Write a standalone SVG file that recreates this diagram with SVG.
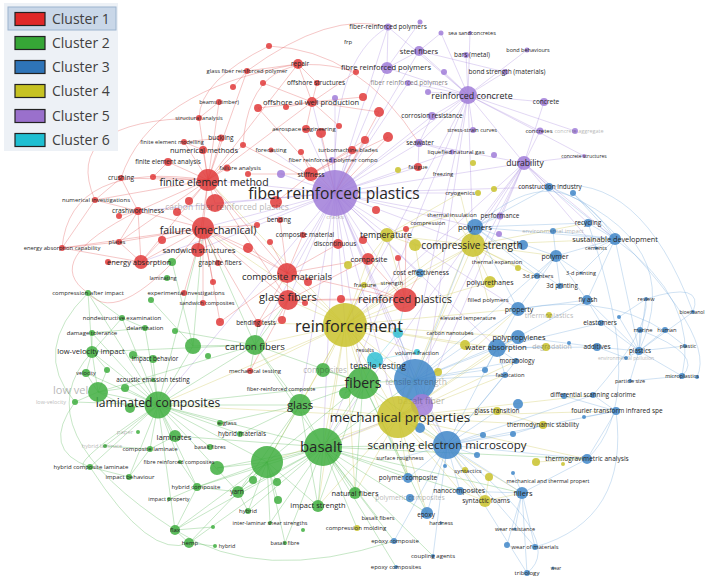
<svg xmlns="http://www.w3.org/2000/svg" width="709" height="579" viewBox="0 0 709 579">
<style>
.n1{fill:#e03a3a}.n2{fill:#3fae3f}.n3{fill:#3f86c8}.n4{fill:#c9c22b}.n5{fill:#a07cd8}.n6{fill:#32bfd4}
circle{fill-opacity:.85}
text{font-family:"Open Sans","Liberation Sans",sans-serif;fill:#262626;text-anchor:middle}
.f{opacity:.33}
.e path{fill:none;stroke-width:.8;stroke-opacity:.4}
.e1{stroke:#e05050}.e2{stroke:#4fb54f}.e3{stroke:#6aa3da}.e4{stroke:#c9c24a}.e5{stroke:#a585dc}.e6{stroke:#40c4d8}
.lg text{text-anchor:start;font-size:14px;fill:#404040}
.sw{stroke:#222;stroke-width:1.2}
</style>
<rect width="709" height="579" fill="#fff"/>
<g id="connectors" class="e">
<path class="e5" d="M335 193L311 174M335 193L332 160M335 193L352 150M335 193L271 150M335 193L288 300M335 193L287 273M335 193L345 325M335 193L405 300M335 193L387 235M335 193L368 259M335 193L473 245M335 193L475 227M335 193L524 163M335 193L468 95M335 193L387 68M335 193L419 51M335 193L419 143M335 193L432 116M335 193L418 167M335 193L460 193M335 193L208 180M335 193L203 228M335 193L215 203M335 193L198 250M335 193L312 102M335 193L306 129M335 193L323 447M335 193L363 383M335 193L398 417M335 193L415 380M335 193L300 405M335 193L255 345M335 193L158 405M335 193L141 262M335 193L138 211M335 193L549 187M335 193L452 215M335 193L420 273M335 193L452 152M335 193L388 27M335 193L408 83M335 193L335 98M335 193L281 174M335 193L497 348M335 193L518 309M335 193L422 405M335 193L447 445"/>
<path class="e5" d="M468 95L419 51M468 95L466 55M468 95L505 72M468 95L527 50M468 95L470 33M468 95L441 33M468 95L387 68M468 95L388 27M468 95L432 116M468 95L473 130M468 95L544 102M468 95L540 131M468 95L524 163M468 95L419 143M468 95L473 245M468 95L408 83M468 95L428 92M468 95L444 72M468 95L575 131M468 95L584 156M468 95L345 325M468 95L398 417M468 95L323 447M387 68L419 51M387 68L388 27M387 68L420 22M419 51L441 33M419 51L505 72M419 143L452 152M419 143L418 167M432 116L419 143M388 27Q330 60 335 193"/>
<path class="e5" d="M524 163L540 131M524 163L584 156M524 163L549 187M524 163L544 102M524 163L473 245M524 163L475 227M524 163L500 216M524 163L596 248M524 163L615 239M524 163L588 223M524 163L345 325M524 163L398 417M524 163L323 447M524 163L419 143M422 405L323 447M422 405L398 417M422 405L447 445M422 405L415 380M422 405L468 95M422 405L524 163"/>
<path class="e4" d="M345 325L323 447M345 325L363 383M345 325L300 405M345 325L398 417M345 325L415 380M345 325L447 445M345 325L473 245M345 325L475 227M345 325L387 235M345 325L288 300M345 325L287 273M345 325L255 345M345 325L158 405M345 325L203 228M345 325L208 180M345 325L405 300M345 325L497 348M345 325L518 337M345 325L518 309M345 325L368 259M345 325L375 360M345 325L323 370M345 325L490 282M345 325L420 273M345 325L364 285M345 325L417 353M345 325L465 345M345 325L250 371M345 325L258 323M345 325L267 462M345 325L355 493M345 325L318 506M345 325L408 478"/>
<path class="e4" d="M398 417L447 445M398 417L415 380M398 417L363 383M398 417L323 447M398 417L300 405M398 417L497 348M398 417L518 337M398 417L518 309M398 417L522 493M398 417L485 501M398 417L460 491M398 417L408 478M398 417L427 513M398 417L587 459M398 417L497 411M398 417L543 425M398 417L593 395M398 417L616 411M398 417L473 245M398 417L475 227M398 417L355 493M398 417L318 506M398 417L158 405M398 417L267 462M398 417L516 361M398 417L505 375"/>
<path class="e4" d="M473 245L475 227M473 245L490 282M473 245L497 262M473 245L387 235M473 245L420 273M473 245L488 300M473 245L537 276M473 245L556 256M473 245L415 245M473 245L452 215M473 245L460 193M473 245L518 268M473 245L523 245M473 245L588 223M473 245L615 239M387 235L368 259M387 235L415 245M387 235L452 215M387 235L460 193M387 235L428 223M387 235L405 300M485 501L460 491M485 501L522 493M485 501L447 445M485 501L489 477M415 245L420 273M364 285L392 283M497 411L543 425M536 462L587 459"/>
<path class="e2" d="M323 447L158 405M323 447L300 405M323 447L363 383M323 447L447 445M323 447L355 493M323 447L318 506M323 447L427 513M323 447L238 492M323 447L197 487M323 447L175 530M323 447L189 543M323 447L175 436M323 447L357 528M323 447L378 518M323 447L433 556M323 447L394 541M323 447L396 567M323 447L270 523M323 447L285 543M323 447L415 380M323 447L587 459M323 447L522 493M323 447L408 478M323 447L267 462M323 447L255 345M323 447L217 468M323 447L248 511M323 447L460 491"/>
<path class="e2" d="M158 405L92 352M158 405L92 333M158 405L86 373M158 405L125 388M158 405L153 359M158 405L175 436M158 405L150 449M158 405L90 467M158 405L105 446M158 405L129 477M158 405L220 423M158 405L240 434M158 405L300 405M158 405L363 383M158 405L255 345M158 405L88 293M158 405L122 318M158 405L145 328M158 405L98 392M158 405L267 462M158 405L238 492M158 405L197 487M158 405L175 530M158 405L130 408M158 405L75 402M158 405L193 346M158 405L180 462M158 405L210 447M158 405L203 228"/>
<path class="e2" d="M363 383L300 405M363 383L255 345M363 383L415 380M363 383L447 445M363 383L267 462M363 383L355 493M363 383L318 506M363 383L323 370M363 383L345 393M363 383L427 513M363 383L408 478M300 405L255 345M300 405L267 462M300 405L220 423M300 405L240 434M300 405L238 492M300 405L318 506M255 345L193 346M255 345L250 371M255 345L258 323M255 345L288 300M255 345L203 228M255 345L175 331M255 345L92 352M255 345L98 392"/>
<path class="e2" d="M267 462L238 492M267 462L197 487M267 462L253 480M267 462L277 482M267 462L278 500M267 462L217 468M267 462L248 511M267 462L318 506M267 462L175 530M267 462L189 543M267 462L270 523M267 462L285 543M92 352L92 333M92 352L86 373M92 352L98 392M92 352L122 318M92 352L88 293M92 352L107 370M98 392L75 402M98 392L86 373M98 392L125 388M98 392L130 408M98 392L107 370M175 530L213 527M189 543L215 546M175 530L189 543M238 492L248 511"/>
<path class="e2" d="M88 293L122 318M122 318L145 328M92 333L145 328M133 355L153 359M153 380L125 388M175 436L150 449M150 449L105 446M90 467L129 477M129 477L150 449M180 462L197 487M197 487L175 530M197 487L238 492M169 499L197 487M193 346L203 228M172 262L193 346M151 300L193 346M75 402Q40 450 90 467M88 293Q30 350 75 402M92 352Q20 430 175 530M175 530Q260 585 394 541M90 467Q150 560 189 543M158 405Q60 470 90 467"/>
<path class="e3" d="M447 445L415 380M447 445L522 493M447 445L460 491M447 445L408 478M447 445L427 513M447 445L616 411M447 445L587 459M447 445L593 395M447 445L497 348M447 445L516 361M447 445L505 375M447 445L535 547M447 445L527 573M447 445L433 556M447 445L497 411M447 445L483 435M447 445L513 434M447 445L477 455M447 445L445 466M447 445L400 458M447 445L394 541"/>
<path class="e3" d="M415 380L497 348M415 380L518 337M415 380L518 309M415 380L516 361M415 380L505 375M415 380L485 370M415 380L420 428M415 380L475 227M415 380L556 256M415 380L375 360M415 380L398 333M497 348L518 337M497 348L518 309M497 348L516 361M497 348L505 375M497 348L485 370M497 348L546 347M497 348L597 347M497 348L587 300M497 348L601 323"/>
<path class="e3" d="M475 227L556 256M475 227L549 187M475 227L588 223M475 227L615 239M475 227L537 276M475 227L560 286M475 227L518 309M475 227L500 216M615 239L588 223M615 239L549 187M615 239L573 193M615 239L556 256M615 239L596 248M615 239L581 273M615 239L639 351M615 239L587 300M615 239L553 231M556 256L537 276M556 256L560 286M556 256L581 273M556 256L553 231M556 256L587 300M556 256L518 309"/>
<path class="e3" d="M639 351L685 346M639 351L640 330M639 351L665 330M639 351L626 358M639 351L630 381M639 351L682 376M639 351L646 299M639 351L693 312M639 351L597 347M639 351L601 323M639 351L619 317M639 351L587 300M522 493L535 547M522 493L515 529M522 493L507 545M522 493L527 573M522 493L513 473M522 493L587 459M522 493L460 491M616 411L587 459M616 411L593 395M616 411L564 396M616 411L584 417"/>
<path class="e3" d="M518 309L587 300M518 337L597 347M601 323L587 300M619 317L646 299M597 347L626 358M630 381L682 376M513 434L543 425M615 239Q700 300 682 376M549 187Q690 240 639 351M588 223Q650 400 587 459M573 193Q720 330 697 377M447 445Q570 540 527 573M616 411Q630 520 535 547M646 299Q705 280 693 312M640 330Q705 355 682 376M549 187Q640 170 693 312M475 227Q560 150 615 239M518 309Q620 290 685 346M593 395Q650 330 646 299"/>
<path class="e1" d="M208 180L203 150M208 180L168 162M208 180L121 178M208 180L138 211M208 180L95 200M208 180L203 228M208 180L215 203M208 180L199 118M208 180L219 102M208 180L221 138M208 180L184 142M208 180L198 250M208 180L141 262M208 180L287 273M208 180L288 300M208 180L227 168M208 180L153 177M208 180L189 201M208 180L243 145M208 180L312 102M208 180L298 64M208 180L247 71M208 180L119 242"/>
<path class="e1" d="M203 228L198 250M203 228L141 262M203 228L138 211M203 228L119 242M203 228L218 263M203 228L287 273M203 228L288 300M203 228L184 293M203 228L258 323M203 228L162 240M203 228L177 212M203 228L62 248M203 228L213 282M203 228L203 303M203 228L248 248M203 228L257 225M203 228L220 322M287 273L288 300M287 273L405 300M287 273L368 259M287 273L303 235M287 273L280 220M287 273L338 244M287 273L248 248M287 273L270 242M287 273L308 282M287 273L258 323M287 273L220 322"/>
<path class="e1" d="M288 300L405 300M288 300L258 323M288 300L282 320M288 300L305 303M288 300L341 299M288 300L250 371M288 300L368 259M405 300L368 259M405 300L406 229M405 300L398 258M405 300L341 299M405 300L420 273M405 300L364 285M312 102L317 83M312 102L298 64M312 102L363 97M312 102L356 72M312 102L258 108M312 102L286 107M312 102L306 129M312 102L339 126M312 102L379 112M141 262L108 262M141 262L119 242M141 262L62 248M141 262L138 211M141 262L172 262M141 262L162 240M138 211L121 178M138 211L95 200M138 211L119 216M138 211L119 242M311 174L248 174M311 174L276 202M311 174L301 152M311 174L352 150M311 174L365 140M311 174L388 137"/>
<path class="e1" d="M121 178L95 200M95 200L62 248M119 242L62 248M168 162L153 177M203 150L184 142M199 118L219 102M221 138L184 142M247 71L298 64M298 64L317 83M233 87L247 71M263 83L312 102M243 145L335 193M258 108L335 193M321 133L335 193M365 140L335 193M388 137L335 193M379 112L335 193M208 180Q70 160 62 248M138 211Q40 260 88 293M203 228Q120 330 88 293M247 71Q330 10 388 27M269 46Q360 50 419 143M95 200Q60 120 199 118M121 178Q150 90 298 64M243 145Q250 40 356 72M269 46Q200 80 199 118"/>
<path class="e6" d="M375 360L398 333M375 360L417 352M375 360L363 383M375 360L415 380M398 333L405 300"/>
</g>
<g id="legend" class="lg">
<rect x="4" y="3" width="114" height="148" fill="#edf1f6"/>
<rect x="8" y="7" width="108" height="23" fill="#c9d7e8" stroke="#9cb4ce"/>
<rect class="sw" x="15" y="12.5" width="30" height="13" fill="#e02828"/><text x="52" y="24">Cluster 1</text>
<rect class="sw" x="15" y="36.5" width="30" height="13" fill="#36a636"/><text x="52" y="48">Cluster 2</text>
<rect class="sw" x="15" y="60.5" width="30" height="13" fill="#2e74b8"/><text x="52" y="72">Cluster 3</text>
<rect class="sw" x="15" y="84.5" width="30" height="13" fill="#c6c222"/><text x="52" y="96">Cluster 4</text>
<rect class="sw" x="15" y="109.5" width="30" height="13" fill="#9a70cc"/><text x="52" y="121">Cluster 5</text>
<rect class="sw" x="15" y="133.5" width="30" height="13" fill="#1fbfd2"/><text x="52" y="145">Cluster 6</text>
</g>
<g id="minor-nodes">
<circle class="n1" cx="233" cy="87" r="3"/><circle class="n1" cx="263" cy="83" r="3"/><circle class="n1" cx="356" cy="72" r="3"/><circle class="n1" cx="363" cy="97" r="4"/><circle class="n1" cx="258" cy="108" r="4"/><circle class="n1" cx="286" cy="107" r="3"/><circle class="n1" cx="339" cy="126" r="3"/><circle class="n1" cx="321" cy="133" r="5"/><circle class="n1" cx="379" cy="112" r="5"/><circle class="n1" cx="365" cy="140" r="4"/><circle class="n1" cx="388" cy="137" r="5"/><circle class="n1" cx="243" cy="145" r="3"/><circle class="n1" cx="153" cy="177" r="3"/><circle class="n1" cx="189" cy="201" r="4"/><circle class="n1" cx="177" cy="212" r="4"/><circle class="n1" cx="119" cy="216" r="3"/><circle class="n1" cx="162" cy="240" r="4"/><circle class="n1" cx="213" cy="282" r="3"/><circle class="n1" cx="108" cy="262" r="3"/><circle class="n1" cx="220" cy="322" r="4"/><circle class="n1" cx="248" cy="174" r="3"/><circle class="n1" cx="276" cy="202" r="6"/><circle class="n1" cx="301" cy="152" r="3"/><circle class="n1" cx="257" cy="225" r="3"/><circle class="n1" cx="270" cy="242" r="3"/><circle class="n1" cx="248" cy="248" r="5"/><circle class="n1" cx="363" cy="240" r="4"/><circle class="n1" cx="376" cy="210" r="4"/><circle class="n1" cx="398" cy="258" r="3"/><circle class="n1" cx="406" cy="229" r="3"/><circle class="n1" cx="308" cy="282" r="4"/><circle class="n1" cx="282" cy="320" r="4"/><circle class="n1" cx="305" cy="303" r="3"/><circle class="n1" cx="341" cy="299" r="4"/><circle class="n1" cx="269" cy="46" r="3"/>
<circle class="n2" cx="172" cy="262" r="4"/><circle class="n2" cx="151" cy="300" r="3"/><circle class="n2" cx="175" cy="331" r="3"/><circle class="n2" cx="193" cy="346" r="8"/><circle class="n2" cx="208" cy="356" r="3"/><circle class="n2" cx="107" cy="370" r="3"/><circle class="n2" cx="133" cy="355" r="4"/><circle class="n2" cx="217" cy="468" r="7"/><circle class="n2" cx="253" cy="480" r="4"/><circle class="n2" cx="277" cy="482" r="4"/><circle class="n2" cx="278" cy="500" r="4"/><circle class="n2" cx="213" cy="527" r="2"/><circle class="n2" cx="303" cy="530" r="2"/><circle class="n2" cx="345" cy="393" r="6"/><circle class="n2" cx="130" cy="408" r="5"/><circle class="n2" cx="125" cy="388" r="4"/><circle class="n2" cx="138" cy="432" r="2"/>
<circle class="n3" cx="483" cy="435" r="3"/><circle class="n3" cx="513" cy="434" r="3"/><circle class="n3" cx="477" cy="455" r="3"/><circle class="n3" cx="445" cy="466" r="2"/><circle class="n3" cx="420" cy="428" r="5"/><circle class="n3" cx="518" cy="404" r="5"/><circle class="n3" cx="584" cy="417" r="2"/><circle class="n3" cx="569" cy="343" r="2"/><circle class="n3" cx="619" cy="317" r="2"/><circle class="n3" cx="485" cy="370" r="3"/><circle class="n3" cx="573" cy="193" r="3"/><circle class="n3" cx="523" cy="245" r="5"/><circle class="n3" cx="564" cy="396" r="3"/><circle class="n3" cx="697" cy="377" r="2"/><circle class="n3" cx="507" cy="545" r="3"/>
<circle class="n4" cx="415" cy="245" r="6"/><circle class="n4" cx="348" cy="265" r="4"/><circle class="n4" cx="398" cy="170" r="3"/><circle class="n4" cx="473" cy="163" r="3"/><circle class="n4" cx="494" cy="189" r="3"/><circle class="n4" cx="478" cy="193" r="3"/><circle class="n4" cx="518" cy="268" r="3"/><circle class="n4" cx="438" cy="372" r="4"/><circle class="n4" cx="465" cy="345" r="5"/><circle class="n4" cx="536" cy="462" r="4"/><circle class="n4" cx="563" cy="464" r="2"/><circle class="n4" cx="489" cy="477" r="4"/>
<circle class="n5" cx="420" cy="22" r="2.5"/><circle class="n5" cx="441" cy="33" r="2.5"/><circle class="n5" cx="444" cy="72" r="3"/><circle class="n5" cx="428" cy="92" r="3"/><circle class="n5" cx="281" cy="174" r="4"/><circle class="n5" cx="335" cy="98" r="3"/><circle class="n5" cx="494" cy="155" r="3"/><circle class="n5" cx="499" cy="234" r="3"/>
<circle class="n6" cx="398" cy="333" r="5"/><circle class="n6" cx="417" cy="352" r="3"/>
</g>
<g id="n-frp"><circle class="n5" cx="335" cy="193" r="23"/><text x="334" y="198.5" font-size="15.6">fiber reinforced plastics</text></g>
<g id="n-reinforcement"><circle class="n4" cx="345" cy="325" r="22"/><text x="349" y="331.7" font-size="16.2">reinforcement</text></g>
<g id="n-tensile-strength"><circle class="n3" cx="415" cy="380" r="21"/><text class="f" x="416" y="384.5" font-size="8.5">tensile strength</text></g>
<g id="n-basalt-fiber"><circle class="n5" cx="422" cy="405" r="11"/><text class="f" x="421" y="404" font-size="9">basalt fiber</text></g>
<g id="n-mechanical-properties"><circle class="n4" cx="398" cy="417" r="21"/><text x="400" y="421.7" font-size="13.5">mechanical properties</text></g>
<g id="n-basalt"><circle class="n2" cx="323" cy="447" r="19"/><text x="321" y="452" font-size="15">basalt</text></g>
<g id="n-big-green"><circle class="n2" cx="267" cy="462" r="16"/></g>
<g id="n-fibers"><circle class="n2" cx="363" cy="383" r="16"/><text x="363" y="388" font-size="14">fibers</text></g>
<g id="n-glass"><circle class="n2" cx="300" cy="405" r="11"/><text x="300" y="409" font-size="11.3">glass</text></g>
<g id="n-composites"><circle class="n2" cx="323" cy="370" r="7"/><text class="f" x="325" y="372.9" font-size="8.2">composites</text></g>
<g id="n-tensile-testing"><circle class="n6" cx="375" cy="360" r="8"/><text x="378" y="369" font-size="8.6">tensile testing</text></g>
<g id="n-laminated"><circle class="n2" cx="158" cy="405" r="13.5"/><text x="158" y="407" font-size="12.1">laminated composites</text></g>
<g id="n-low-vel-big"><circle class="n2" cx="98" cy="392" r="10"/><text class="f" x="53" y="394" font-size="11" style="text-anchor:start">low vel</text></g>
<g id="n-sem"><circle class="n3" cx="447" cy="445" r="14"/><text x="447" y="449" font-size="11.5">scanning electron microscopy</text></g>
<g id="n-compressive"><circle class="n4" cx="473" cy="245" r="12"/><text x="472" y="248.5" font-size="10.1">compressive strength</text></g>
<g id="n-reinforced-plastics"><circle class="n1" cx="405" cy="300" r="12"/><text x="405" y="303" font-size="11">reinforced plastics</text></g>
<g id="n-glass-fibers"><circle class="n1" cx="288" cy="300" r="10"/><text x="288" y="301" font-size="11.1">glass fibers</text></g>
<g id="n-composite-materials"><circle class="n1" cx="287" cy="273" r="10"/><text x="287" y="280" font-size="9.5">composite materials</text></g>
<g id="n-carbon-fibers"><circle class="n2" cx="255" cy="345" r="10"/><text x="255" y="350" font-size="9.7">carbon fibers</text></g>
<g id="n-failure"><circle class="n1" cx="203" cy="228" r="11"/><text x="208" y="233.7" font-size="10.6">failure (mechanical)</text></g>
<g id="n-fem"><circle class="n1" cx="208" cy="180" r="11"/><text x="214" y="185.7" font-size="10.5">finite element method</text></g>
<g id="n-cfrp"><circle class="n1" cx="215" cy="203" r="9"/><text class="f" x="227" y="209.5" font-size="8.5">carbon fiber reinforced plastics</text></g>
<g id="n-temperature"><circle class="n4" cx="387" cy="235" r="7"/><text x="386" y="238" font-size="8.8">temperature</text></g>
<g id="n-sandwich"><circle class="n1" cx="198" cy="250" r="7"/><text x="199" y="252.7" font-size="7.8">sandwich structures</text></g>
<g id="n-energy-abs"><circle class="n1" cx="141" cy="262" r="7"/><text x="139" y="264.6" font-size="7.5">energy absorption</text></g>
<g id="n-composite"><circle class="n1" cx="368" cy="259" r="6"/><text x="369" y="261.7" font-size="7.6">composite</text></g>
<g id="n-stiffness"><circle class="n1" cx="311" cy="174" r="7"/><text x="311" y="176.5" font-size="7">stiffness</text></g>
<g id="n-durability"><circle class="n5" cx="524" cy="163" r="7"/><text x="525" y="166" font-size="8.5">durability</text></g>
<g id="n-rc"><circle class="n5" cx="468" cy="95" r="9"/><text x="472" y="99" font-size="8.9">reinforced concrete</text></g>
<g id="n-fibre-rp"><circle class="n5" cx="387" cy="68" r="6"/><text x="386" y="69.7" font-size="7.6">fibre reinforced polymers</text></g>
<g id="n-steel"><circle class="n5" cx="419" cy="51" r="5"/><text x="419" y="53.6" font-size="7.5">steel fibers</text></g>
<g id="n-fiber-rp"><circle class="n5" cx="388" cy="27" r="3.5"/><text x="388" y="29.2" font-size="6.5">fiber-reinforced polymers</text></g>
<g id="n-sea-sand"><circle class="n5" cx="470" cy="33" r="2"/><text x="472" y="35" font-size="5.5">sea sandconcretes</text></g>
<g id="n-bars"><circle class="n5" cx="466" cy="55" r="3"/><text x="472" y="57.3" font-size="6.5">bars (metal)</text></g>
<g id="n-bond-strength"><circle class="n5" cx="505" cy="72" r="3"/><text x="507" y="74.3" font-size="6.5">bond strength (materials)</text></g>
<g id="n-bond-beh"><circle class="n5" cx="527" cy="50" r="2.5"/><text x="528" y="52" font-size="5.5">bond behaviours</text></g>
<g id="n-fiber-rp2"><circle class="n5" cx="408" cy="83" r="3"/><text x="409" y="85.3" font-size="6.5" fill-opacity=".6">fiber reinforced polymers</text></g>
<g id="n-corrosion"><circle class="n5" cx="432" cy="116" r="4"/><text x="432" y="118.3" font-size="6.5">corrosion resistance</text></g>
<g id="n-seawater"><circle class="n5" cx="419" cy="143" r="4"/><text x="420" y="145.3" font-size="6.5">seawater</text></g>
<g id="n-stress-strain"><circle class="n5" cx="473" cy="130" r="3"/><text x="472" y="132" font-size="5.5">stress-strain curves</text></g>
<g id="n-concrete"><circle class="n5" cx="544" cy="102" r="4"/><text x="546" y="104.3" font-size="6.5">concrete</text></g>
<g id="n-concretes"><circle class="n5" cx="540" cy="131" r="3.5"/><text x="539" y="133.1" font-size="6">concretes</text></g>
<g id="n-concrete-agg"><circle class="n5" cx="575" cy="131" r="3"/><text class="f" x="579" y="133" font-size="5.5">concrete aggregate</text></g>
<g id="n-concrete-struct"><circle class="n5" cx="584" cy="156" r="2"/><text x="584" y="157.8" font-size="5">concrete structures</text></g>
<g id="n-performance"><circle class="n5" cx="500" cy="216" r="3.5"/><text x="500" y="218.2" font-size="6.4">performance</text></g>
<g id="n-frp-compo"><circle class="n5" cx="332" cy="160" r="3"/><text x="333" y="162.1" font-size="6">fiber reinforced polymer compo</text></g>
<g id="n-lng"><circle class="n5" cx="452" cy="152" r="2.5"/><text x="456" y="154.1" font-size="6">liquefied natural gas</text></g>
<g id="n-numerical-methods"><circle class="n1" cx="203" cy="150" r="4"/><text x="204" y="152.6" font-size="7.5">numerical methods</text></g>
<g id="n-fea"><circle class="n1" cx="168" cy="162" r="4"/><text x="168" y="164.2" font-size="6.3">finite element analysis</text></g>
<g id="n-failure-analysis"><circle class="n1" cx="227" cy="168" r="3.5"/><text x="240" y="170.1" font-size="6">failure analysis</text></g>
<g id="n-crushing"><circle class="n1" cx="121" cy="178" r="3"/><text x="121" y="180.3" font-size="6.5">crushing</text></g>
<g id="n-num-inv"><circle class="n1" cx="95" cy="200" r="3"/><text x="96" y="202.1" font-size="6">numerical investigations</text></g>
<g id="n-crash"><circle class="n1" cx="138" cy="211" r="4"/><text x="138" y="213.4" font-size="6.8">crashworthiness</text></g>
<g id="n-plates"><circle class="n1" cx="119" cy="242" r="3"/><text x="117" y="244.1" font-size="6">plates</text></g>
<g id="n-eac"><circle class="n1" cx="62" cy="248" r="3"/><text x="62" y="250" font-size="5.8">energy absorption capability</text></g>
<g id="n-graphite"><circle class="n1" cx="218" cy="263" r="3"/><text x="220" y="265.2" font-size="6.3">graphite fibers</text></g>
<g id="n-exp-inv"><circle class="n1" cx="184" cy="293" r="3"/><text x="186" y="295.1" font-size="6">experimental investigations</text></g>
<g id="n-sandwich-comp"><circle class="n1" cx="203" cy="303" r="3"/><text x="207" y="305" font-size="5.5">sandwich composites</text></g>
<g id="n-bending-tests"><circle class="n1" cx="258" cy="323" r="4"/><text x="256" y="325.2" font-size="6.3">bending tests</text></g>
<g id="n-mech-testing"><circle class="n1" cx="250" cy="371" r="3"/><text x="255" y="373.1" font-size="6">mechanical testing</text></g>
<g id="n-beams"><circle class="n1" cx="219" cy="102" r="3"/><text x="219" y="104" font-size="5.6">beams (timber)</text></g>
<g id="n-struct-analysis"><circle class="n1" cx="199" cy="118" r="3"/><text x="199" y="120" font-size="5.6">structural analysis</text></g>
<g id="n-fe-modelling"><circle class="n1" cx="184" cy="142" r="3"/><text x="172" y="144" font-size="5.6">finite element modelling</text></g>
<g id="n-buckling"><circle class="n1" cx="221" cy="138" r="3.5"/><text x="221" y="140.3" font-size="6.5">buckling</text></g>
<g id="n-gfrp"><circle class="n1" cx="247" cy="71" r="3"/><text x="247" y="73" font-size="5.8">glass fiber reinforced polymer</text></g>
<g id="n-repair"><circle class="n1" cx="298" cy="64" r="5"/><text x="300" y="66.3" font-size="6.5">repair</text></g>
<g id="n-offshore-struct"><circle class="n1" cx="317" cy="83" r="3"/><text x="316" y="85.3" font-size="6.5">offshore structures</text></g>
<g id="n-offshore-oil"><circle class="n1" cx="312" cy="102" r="5"/><text x="311" y="104.6" font-size="7.5">offshore oil well production</text></g>
<g id="n-aerospace"><circle class="n1" cx="306" cy="129" r="4"/><text x="304" y="131.1" font-size="6">aerospace engineering</text></g>
<g id="n-turbo"><circle class="n1" cx="352" cy="150" r="4"/><text x="348" y="152.1" font-size="6">turbomachine blades</text></g>
<g id="n-forecasting"><circle class="n1" cx="271" cy="150" r="2.5"/><text x="271" y="152.1" font-size="6">forecasting</text></g>
<g id="n-fatigue"><circle class="n1" cx="418" cy="167" r="4"/><text x="418" y="169.1" font-size="6">fatigue</text></g>
<g id="n-frp-small"><text x="348" y="44" font-size="6">frp</text></g>
<g id="n-bending"><circle class="n1" cx="280" cy="220" r="3"/><text x="279" y="222.2" font-size="6.3">bending</text></g>
<g id="n-composite-material"><circle class="n1" cx="303" cy="235" r="3"/><text x="305" y="237.3" font-size="6.5">composite material</text></g>
<g id="n-discontinuous"><circle class="n1" cx="338" cy="244" r="5"/><text x="335" y="246.3" font-size="6.5">discontinuous</text></g>
<g id="n-cracks"><text class="f" x="335" y="219" font-size="6">cracks</text></g>
<g id="n-lvi"><circle class="n2" cx="92" cy="352" r="6"/><text x="91" y="353.7" font-size="7.6">low-velocity impact</text></g>
<g id="n-laminates"><circle class="n2" cx="175" cy="436" r="6"/><text x="174" y="439.7" font-size="7.7">laminates</text></g>
<g id="n-natural-fibers"><circle class="n2" cx="355" cy="493" r="6"/><text x="355" y="495.6" font-size="7.5">natural fibers</text></g>
<g id="n-impact-strength"><circle class="n2" cx="318" cy="506" r="6"/><text x="318" y="507.6" font-size="7.5">impact strength</text></g>
<g id="n-yarn"><circle class="n2" cx="238" cy="492" r="6"/><text x="237" y="494.3" font-size="6.5">yarn</text></g>
<g id="n-hybrid"><circle class="n2" cx="248" cy="511" r="3"/><text x="248" y="513.1" font-size="6">hybrid</text></g>
<g id="n-ilss"><circle class="n2" cx="270" cy="523" r="2"/><text x="270" y="525" font-size="5.5">inter-laminar shear strengths</text></g>
<g id="n-basalt-fibre"><circle class="n2" cx="285" cy="543" r="2"/><text x="285" y="545" font-size="5.5">basalt fibre</text></g>
<g id="n-hybrid-composite"><circle class="n2" cx="197" cy="487" r="4"/><text x="196" y="489.1" font-size="6">hybrid composite</text></g>
<g id="n-impact-property"><circle class="n2" cx="169" cy="499" r="2"/><text x="169" y="501" font-size="5.5">impact property</text></g>
<g id="n-flax"><circle class="n2" cx="175" cy="530" r="5"/><text x="175" y="532.1" font-size="6">flax</text></g>
<g id="n-hemp"><circle class="n2" cx="189" cy="543" r="5"/><text x="190" y="545.1" font-size="6">hemp</text></g>
<g id="n-hybrid2"><circle class="n2" cx="215" cy="546" r="2"/><text x="227" y="548" font-size="5.5">hybrid</text></g>
<g id="n-hcl"><circle class="n2" cx="90" cy="467" r="3"/><text x="91" y="469.1" font-size="6">hybrid composite laminate</text></g>
<g id="n-impact-behaviour"><circle class="n2" cx="129" cy="477" r="3"/><text x="130" y="479.1" font-size="6">impact behaviour</text></g>
<g id="n-composite-laminate"><circle class="n2" cx="150" cy="449" r="3"/><text x="150" y="451.1" font-size="6">composite laminate</text></g>
<g id="n-hybrid-laminate"><circle class="n2" cx="105" cy="446" r="2"/><text class="f" x="102" y="448" font-size="5.5">hybrid laminate</text></g>
<g id="n-frc"><circle class="n2" cx="180" cy="462" r="2"/><text x="179" y="464" font-size="5.5">fibre reinforced composites</text></g>
<g id="n-basalt-fibres"><circle class="n2" cx="210" cy="447" r="3"/><text x="210" y="449" font-size="5.5">basalt fibres</text></g>
<g id="n-hybrid-materials"><circle class="n2" cx="240" cy="434" r="3"/><text x="242" y="436.2" font-size="6.3">hybrid materials</text></g>
<g id="n-eglass"><circle class="n2" cx="220" cy="423" r="3"/><text x="227" y="425.1" font-size="6">e-glass</text></g>
<g id="n-paper"><text class="f" x="125" y="434" font-size="6">paper</text></g>
<g id="n-acoustic"><circle class="n2" cx="153" cy="380" r="2"/><text x="153" y="382.2" font-size="6.3">acoustic emission testing</text></g>
<g id="n-impact-behavior"><circle class="n2" cx="153" cy="359" r="4"/><text x="155" y="361.2" font-size="6.2">impact behavior</text></g>
<g id="n-velocity"><circle class="n2" cx="86" cy="373" r="4"/><text x="86" y="375" font-size="5.5">velocity</text></g>
<g id="n-low-velocity"><circle class="n2" cx="75" cy="402" r="3"/><text class="f" x="51" y="404" font-size="5.5">low-velocity</text></g>
<g id="n-damage-tol"><circle class="n2" cx="92" cy="333" r="3"/><text x="92" y="335.1" font-size="6">damage tolerance</text></g>
<g id="n-nde"><circle class="n2" cx="122" cy="318" r="3"/><text x="122" y="320.1" font-size="6">nondestructive examination</text></g>
<g id="n-delamination"><circle class="n2" cx="145" cy="328" r="3"/><text x="145" y="330.1" font-size="6">delamination</text></g>
<g id="n-cai"><circle class="n2" cx="88" cy="293" r="3"/><text x="88" y="295.1" font-size="6">compression after impact</text></g>
<g id="n-laminating"><circle class="n2" cx="167" cy="278" r="3"/><text x="163" y="280" font-size="5.5">laminating</text></g>
<g id="n-frc2"><text x="281" y="391" font-size="5.5">fiber-reinforced composite</text></g>
<g id="n-polymers"><circle class="n3" cx="475" cy="227" r="8"/><text x="475" y="229.7" font-size="7.8">polymers</text></g>
<g id="n-water-abs"><circle class="n3" cx="497" cy="348" r="9"/><text x="496" y="349.7" font-size="7.7">water absorption</text></g>
<g id="n-pp"><circle class="n3" cx="518" cy="337" r="7"/><text x="519" y="339.6" font-size="7.4">polypropylenes</text></g>
<g id="n-property"><circle class="n3" cx="518" cy="309" r="7"/><text x="519" y="311.5" font-size="7">property</text></g>
<g id="n-morphology"><circle class="n3" cx="516" cy="361" r="3"/><text x="517" y="363.2" font-size="6.2">morphology</text></g>
<g id="n-fabrication"><circle class="n3" cx="505" cy="375" r="3"/><text x="510" y="377" font-size="5.8">fabrication</text></g>
<g id="n-dsc"><circle class="n3" cx="593" cy="395" r="3"/><text x="593" y="397.2" font-size="6.2">differential scanning calorime</text></g>
<g id="n-ftir"><circle class="n3" cx="616" cy="411" r="4"/><text x="617" y="413.3" font-size="6.5">fourier transform infrared spe</text></g>
<g id="n-tga"><circle class="n3" cx="587" cy="459" r="5"/><text x="587" y="461.3" font-size="6.6">thermogravimetric analysis</text></g>
<g id="n-mtp"><circle class="n3" cx="513" cy="473" r="2"/><text x="548" y="483" font-size="5.5">mechanical and thermal propert</text></g>
<g id="n-fillers"><circle class="n3" cx="522" cy="493" r="6"/><text x="523" y="495.6" font-size="7.5">fillers</text></g>
<g id="n-nano"><circle class="n3" cx="460" cy="491" r="4"/><text x="459" y="493.3" font-size="6.7">nanocomposites</text></g>
<g id="n-polymer-composite"><circle class="n3" cx="408" cy="478" r="5"/><text x="408" y="480.3" font-size="6.5">polymer composite</text></g>
<g id="n-polymeric"><circle class="n3" cx="410" cy="498" r="4"/><text class="f" x="410" y="500.4" font-size="6.8">polymeric composites</text></g>
<g id="n-epoxy"><circle class="n3" cx="427" cy="513" r="6"/><text x="426" y="517" font-size="6.3">epoxy</text></g>
<g id="n-hardness"><circle class="n3" cx="441" cy="523" r="1.5"/><text x="441" y="525" font-size="5.5">hardness</text></g>
<g id="n-epoxy-composite"><circle class="n3" cx="394" cy="541" r="3"/><text x="395" y="543.1" font-size="6">epoxy composite</text></g>
<g id="n-coupling"><circle class="n3" cx="433" cy="556" r="2"/><text x="433" y="558.1" font-size="6">coupling agents</text></g>
<g id="n-epoxy-composites"><circle class="n3" cx="396" cy="567" r="2"/><text x="396" y="569.1" font-size="6">epoxy composites</text></g>
<g id="n-basalt-fibers"><text x="378" y="520" font-size="5.8">basalt fibers</text></g>
<g id="n-surface-roughness"><text x="400" y="460" font-size="5.5">surface roughness</text></g>
<g id="n-wear-resistance"><circle class="n3" cx="515" cy="529" r="1.5"/><text x="515" y="531" font-size="5.5">wear resistance</text></g>
<g id="n-wear-materials"><circle class="n3" cx="535" cy="547" r="3"/><text x="535" y="549" font-size="5.8">wear of materials</text></g>
<g id="n-wear"><circle class="n3" cx="553" cy="568" r="1.5"/><text x="556" y="570" font-size="4.5">wear</text></g>
<g id="n-tribology"><circle class="n3" cx="527" cy="573" r="3"/><text x="527" y="575.1" font-size="6">tribology</text></g>
<g id="n-construction"><circle class="n3" cx="549" cy="187" r="4"/><text x="550" y="189.2" font-size="6.4">construction industry</text></g>
<g id="n-recycling"><circle class="n3" cx="588" cy="223" r="4"/><text x="588" y="225.3" font-size="6.5">recycling</text></g>
<g id="n-env-impact"><circle class="n3" cx="553" cy="231" r="3"/><text class="f" x="553" y="233.1" font-size="6">environmental impact</text></g>
<g id="n-sust-dev"><circle class="n3" cx="615" cy="239" r="6"/><text x="615" y="241.6" font-size="7.3">sustainable development</text></g>
<g id="n-cements"><circle class="n3" cx="596" cy="248" r="1.5"/><text x="596" y="250" font-size="5.5">cements</text></g>
<g id="n-polymer"><circle class="n3" cx="556" cy="256" r="6"/><text x="555" y="258.5" font-size="7">polymer</text></g>
<g id="n-3dprinters"><circle class="n3" cx="537" cy="276" r="3"/><text x="538" y="278.1" font-size="6">3d printers</text></g>
<g id="n-3-d-printing"><circle class="n3" cx="581" cy="273" r="1.5"/><text x="581" y="275" font-size="5.5">3-d printing</text></g>
<g id="n-3dprinting"><circle class="n3" cx="560" cy="286" r="3"/><text x="562" y="288.2" font-size="6.2">3d printing</text></g>
<g id="n-flyash"><circle class="n3" cx="587" cy="300" r="5"/><text x="588" y="302.2" font-size="6.3">fly ash</text></g>
<g id="n-review"><circle class="n3" cx="646" cy="299" r="2"/><text x="646" y="301" font-size="5.5">review</text></g>
<g id="n-bioethanol"><circle class="n3" cx="693" cy="312" r="2"/><text x="692" y="313.8" font-size="5">bioethanol</text></g>
<g id="n-elastomers"><circle class="n3" cx="601" cy="323" r="3"/><text x="600" y="325.3" font-size="6.5">elastomers</text></g>
<g id="n-marine"><circle class="n3" cx="640" cy="330" r="3"/><text x="643" y="332" font-size="5.8">marine</text></g>
<g id="n-human"><circle class="n3" cx="665" cy="330" r="3"/><text x="667" y="332" font-size="5.8">human</text></g>
<g id="n-additives"><circle class="n3" cx="597" cy="347" r="4"/><text x="597" y="349.3" font-size="6.5">additives</text></g>
<g id="n-plastics"><circle class="n3" cx="639" cy="351" r="4"/><text x="640" y="353.2" font-size="6.4">plastics</text></g>
<g id="n-plastic"><circle class="n3" cx="685" cy="346" r="2"/><text x="688" y="348" font-size="5.5">plastic</text></g>
<g id="n-env-pollution"><circle class="n3" cx="626" cy="358" r="2"/><text class="f" x="626" y="359.8" font-size="5">environmental pollution</text></g>
<g id="n-particle-size"><circle class="n3" cx="630" cy="381" r="2"/><text x="630" y="383" font-size="5.5">particle size</text></g>
<g id="n-microplastics"><circle class="n3" cx="682" cy="376" r="3"/><text x="682" y="378" font-size="5.5">microplastics</text></g>
<g id="n-cost"><circle class="n3" cx="420" cy="273" r="4"/><text x="421" y="275.4" font-size="6.8">cost effectiveness</text></g>
<g id="n-polyurethanes"><circle class="n4" cx="490" cy="282" r="6"/><text x="490" y="284.5" font-size="7">polyurethanes</text></g>
<g id="n-syntactic-foams"><circle class="n4" cx="485" cy="501" r="6"/><text x="486" y="503.3" font-size="6.6">syntactic foams</text></g>
<g id="n-syntactics"><circle class="n4" cx="465" cy="470" r="3"/><text x="468" y="473" font-size="6">syntactics</text></g>
<g id="n-glass-transition"><circle class="n4" cx="497" cy="411" r="4"/><text x="497" y="413.2" font-size="6.4">glass transition</text></g>
<g id="n-thermo-stab"><circle class="n4" cx="543" cy="425" r="4"/><text x="543" y="427.2" font-size="6.4">thermodynamic stability</text></g>
<g id="n-compression-molding"><circle class="n4" cx="357" cy="528" r="3"/><text x="356" y="530.1" font-size="6">compression molding</text></g>
<g id="n-fracture"><circle class="n4" cx="364" cy="285" r="3"/><text x="365" y="287.1" font-size="6">fracture</text></g>
<g id="n-strength"><text x="392" y="285" font-size="5.8">strength</text></g>
<g id="n-compression"><text x="428" y="225" font-size="5.8">compression</text></g>
<g id="n-thermal-ins"><text x="452" y="217" font-size="5.8">thermal insulation</text></g>
<g id="n-cryogenics"><text x="460" y="195.1" font-size="6">cryogenics</text></g>
<g id="n-freezing"><text x="443" y="176" font-size="5.5">freezing</text></g>
<g id="n-thermal-exp"><text x="497" y="264" font-size="5.8">thermal expansion</text></g>
<g id="n-filled-polymers"><text x="488" y="302.1" font-size="6">filled polymers</text></g>
<g id="n-elevated-temp"><text x="468" y="320" font-size="5.5">elevated temperature</text></g>
<g id="n-cnt"><text x="450" y="335" font-size="5.5">carbon nanotubes</text></g>
<g id="n-volume-fraction"><text x="417" y="355.1" font-size="6">volume fraction</text></g>
<g id="n-results"><text x="365" y="352" font-size="5.8">results</text></g>
<g id="n-thermoplastics"><circle class="n4" cx="549" cy="315" r="3"/><text class="f" x="549" y="318" font-size="7">thermoplastics</text></g>
<g id="n-degradation"><circle class="n4" cx="546" cy="347" r="4"/><text class="f" x="552" y="349.4" font-size="7">degradation</text></g>
</svg>
